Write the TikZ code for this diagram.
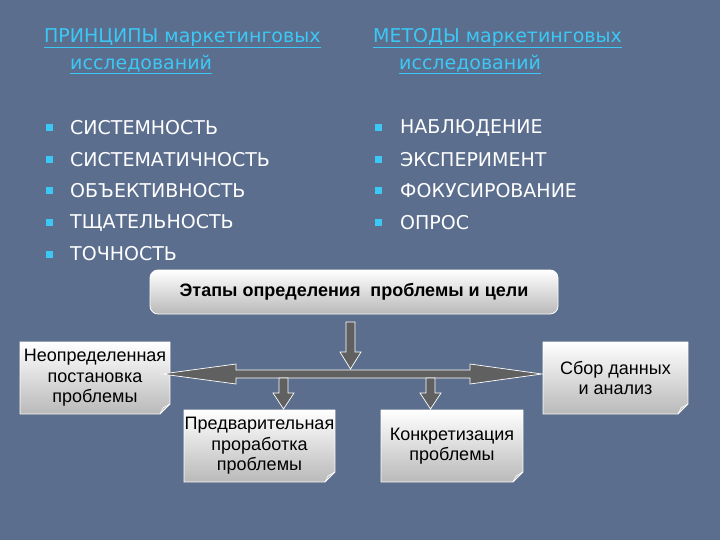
\documentclass[tikz,border=0pt]{standalone}
\usepackage{fontspec}
\setmainfont{DejaVu Sans}
\newfontfamily\boxfont{Liberation Sans}
\usetikzlibrary{shapes.misc}
\definecolor{bg}{HTML}{5B6E8E}
\definecolor{ttl}{HTML}{3CC8F5}
\tikzset{
 ttlnode/.style={anchor=north west,text=ttl,font=\fontsize{19}{27}\selectfont,align=left,inner sep=0pt},
 itemnode/.style={anchor=west,text=white,font=\fontsize{19}{22}\selectfont,inner sep=0pt},
 bul/.style={fill=ttl,minimum size=7pt,inner sep=0pt},
 card/.style={draw=white,line width=0.8pt,top color=white,bottom color=gray!55,align=center,inner sep=2pt},
 arr/.style={draw=white,line width=0.7pt,fill=gray!75!black}
}
\begin{document}
\begin{tikzpicture}[x=1pt,y=-1pt]
\fill[bg] (0,0) rectangle (720,540);
\useasboundingbox (0,0) rectangle (720,540);
\node[ttlnode] (t1) at (44,28) {\underline{ПРИНЦИПЫ маркетинговых}\\\hspace*{26pt}\underline{исследований}};
\node[ttlnode] (t2) at (373,28) {\underline{МЕТОДЫ маркетинговых}\\\hspace*{26pt}\underline{исследований}};
\foreach \t [count=\i] in {СИСТЕМНОСТЬ,СИСТЕМАТИЧНОСТЬ,ОБЪЕКТИВНОСТЬ,ТЩАТЕЛЬНОСТЬ,ТОЧНОСТЬ}{
 \node[bul] (bl\i) at (49,{128+31.5*(\i-1)}) {};
 \node[itemnode] (l\i) at (70,{128+31.5*(\i-1)}) {\t};}
\foreach \t [count=\i] in {НАБЛЮДЕНИЕ,ЭКСПЕРИМЕНТ,ФОКУСИРОВАНИЕ,ОПРОС}{
 \node[bul] (br\i) at (378,{128+31.5*(\i-1)}) {};
 \node[itemnode] (r\i) at (400,{128+31.5*(\i-1)}) {\t};}
% top box
\node[card,rounded corners=8pt,minimum width=408pt,minimum height=44pt,font=\boxfont\bfseries\fontsize{18}{20}\selectfont] (top) at (354,292) {Этапы определения\ \ проблемы и цели};
% cards with folded corner
\newcommand\cardbox[6]{% name x1 y1 x2 y2 text
 \fill[top color=white,bottom color=gray!55] (#2,#3) -- (#4,#3) -- (#4,#5-10) -- (#4-10,#5) -- (#2,#5) -- cycle;
 \draw[white,line width=0.8pt] (#2,#3) -- (#4,#3) -- (#4,#5-10) -- (#4-10,#5) -- (#2,#5) -- cycle;
 \draw[white,line width=0.6pt] (#4,#5-10) -- (#4-7,#5-6) -- (#4-10,#5);
 \node[align=center,font=\boxfont\fontsize{18}{20.5}\selectfont,inner sep=0pt] (#1) at ({(#2+#4)/2},{(#3+#5)/2}) {#6};}
\cardbox{left}{20}{342}{170}{414}{Неопределенная\\постановка\\проблемы}
\cardbox{right}{543}{342}{688}{414}{Сбор данных\\и анализ}
\cardbox{pred}{184}{410}{335}{482}{Предварительная\\проработка\\проблемы}
\cardbox{konk}{381}{410}{523}{482}{Конкретизация\\проблемы}
% horizontal double arrow
\draw[arr] (162,374) -- (236,364) -- (236,370) -- (470,370) -- (470,364) -- (542,374) -- (470,384) -- (470,378) -- (236,378) -- (236,384) -- cycle;
% down arrows
\draw[arr] (346,322) -- (355,322) -- (355,352) -- (361,352) -- (350.5,369) -- (340,352) -- (346,352) -- cycle;
\draw[arr] (279,378) -- (288,378) -- (288,393) -- (294,393) -- (283.5,409) -- (273,393) -- (279,393) -- cycle;
\draw[arr] (426,378) -- (435,378) -- (435,393) -- (441,393) -- (430.5,409) -- (420,393) -- (426,393) -- cycle;
\end{tikzpicture}
\end{document}
